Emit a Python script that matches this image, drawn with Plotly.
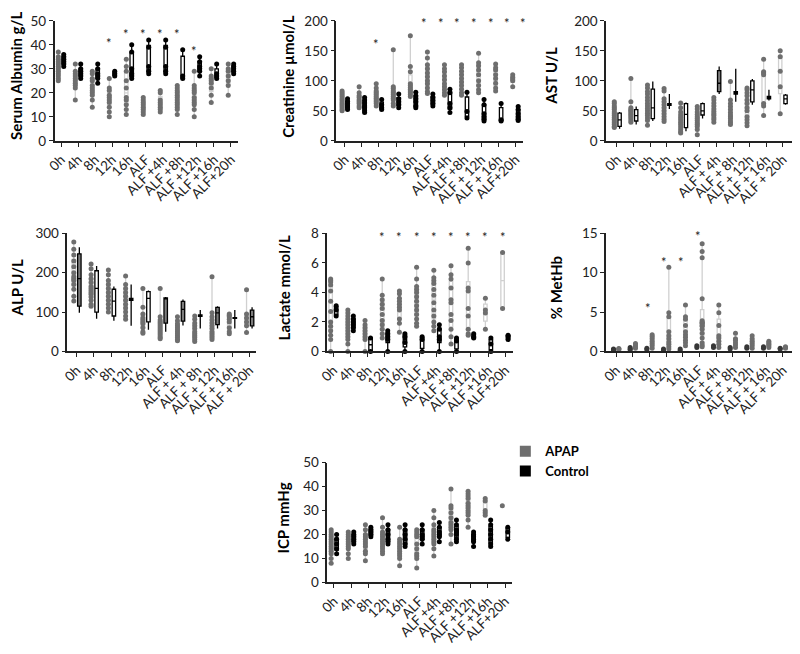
import plotly.graph_objects as go

# ---- data ----
GROUPS = ["APAP", "Control"]

LABELS_TIGHT = ["0h", "4h", "8h", "12h", "16h", "ALF", "ALF +4h", "ALF +8h",
                "ALF +12h", "ALF +16h", "ALF+20h"]
LABELS_SPACED = ["0h", "4h", "8h", "12h", "16h", "ALF", "ALF + 4h", "ALF + 8h",
                 "ALF + 12h", "ALF + 16h", "ALF + 20h"]
LABELS_CREAT = ["0h", "4h", "8h", "12h", "16h", "ALF", "ALF +4h", "ALF +8h",
                "ALF + 12h", "ALF + 16h", "ALF+20h"]

ALB_APAP = [
    [37, 35, 34, 33, 32, 31, 30, 29, 28, 27, 26, 25],
    [32, 29, 28, 27, 26, 25, 24, 23, 22, 17],
    [29, 28, 26, 25, 23, 22, 21, 20, 19, 17, 14],
    [26, 22, 21, 19, 18, 17, 16, 14, 12, 10],
    [34, 31, 29, 25, 22, 18, 17, 15, 13, 11],
    [18, 17, 16, 15, 14, 13, 12, 11],
    [21, 20, 17, 16, 15, 14, 13, 12],
    [23, 22, 21, 20, 19, 18, 17, 16, 15, 14, 13, 11],
    [29, 23, 22, 21, 20, 18, 17, 16, 15, 13, 10],
    [30, 27, 26, 25, 24, 22, 19, 16],
    [32, 30, 29, 27, 25, 23, 19],
]
ALB_CTRL = [
    [36, 35, 34, 33, 32, 31],
    [32, 30, 29, 28, 27, 26],
    [32, 30, 28, 27, 26, 24],
    [29, 28, 27],
    [40, 37, 30, 28, 27, 26],
    [42, 39, 31, 29, 28],
    [42, 39, 31, 29, 28],
    [38, 27, 26],
    [35, 33, 31, 30, 29, 27],
    [32, 28, 27, 26],
    [32, 31, 30, 29, 28],
]
ALB_STAR_X = [2.84, 3.84, 4.84, 5.84, 6.84, 7.84]
ALB_STAR_Y = [43, 46.5, 46.5, 46.5, 46.5, 39.5]

CREAT_APAP = [
    [83, 80, 77, 74, 70, 67, 64, 61, 58, 55, 52, 50],
    [90, 80, 75, 72, 68, 65, 62, 58, 55],
    [95, 88, 83, 80, 77, 74, 71, 68, 65, 62, 58],
    [152, 90, 87, 83, 80, 77, 74, 71, 68, 62, 58],
    [175, 124, 115, 95, 92, 89, 86, 83, 80, 77, 74],
    [148, 138, 127, 120, 113, 107, 100, 95, 88, 82, 79],
    [127, 120, 115, 108, 102, 95, 90, 85, 80, 76],
    [127, 122, 116, 110, 104, 98, 92, 86, 80, 76],
    [146, 130, 125, 118, 110, 100, 92, 85, 80],
    [128, 122, 118, 110, 104, 96, 88, 83],
    [110, 106, 103, 100, 90],
]
CREAT_CTRL = [
    [70, 66, 62, 58, 55, 52],
    [72, 68, 63, 58, 55, 50, 47],
    [69, 60, 55, 52],
    [78, 70, 65, 60, 55],
    [81, 75, 70, 65, 58, 55],
    [78, 72, 67, 62, 58],
    [86, 80, 62, 55, 47],
    [81, 49, 38],
    [69, 60, 45, 40, 36, 33],
    [62, 35, 33],
    [57, 52, 45, 40, 36, 34],
]
CREAT_STAR_X = [1.84, 4.65, 5.63, 6.6, 7.57, 8.55, 9.52, 10.45]
CREAT_STAR_Y = [169, 205, 205, 205, 205, 205, 205, 205]

AST_APAP = [
    [65, 62, 58, 55, 52, 48, 45, 42, 39, 36, 33, 30, 27, 24, 22],
    [104, 65, 55, 52, 50, 48, 45, 43, 40, 37, 34, 31],
    [93, 88, 82, 78, 72, 67, 62, 58, 54, 50, 46, 42, 38, 34, 26],
    [87, 83, 70, 65, 60, 55, 50, 45, 40, 36, 32],
    [63, 55, 48, 43, 39, 35, 31, 27, 23, 19, 15, 13],
    [57, 53, 48, 44, 40, 37, 34, 30, 27, 24, 19, 10],
    [72, 68, 63, 58, 53, 49, 45, 42, 38, 35, 31],
    [99, 68, 62, 57, 52, 47, 43, 40, 37, 33, 30, 27],
    [88, 85, 80, 75, 68, 62, 55, 50, 40, 35, 30, 25],
    [136, 115, 113, 110, 62, 58, 42],
    [150, 140, 116, 90, 45],
]
AST_CTRL_MIN = [20, 27, 33, 53, 16, 37, 78, 65, 60, 67, 60]
AST_CTRL_Q1 = [24, 33, 37, 59, 22, 43, 82, 78, 65, 70, 62]
AST_CTRL_MED = [35, 42, 55, 61, 44, 50, 96, 80, 85, 72, 70]
AST_CTRL_Q3 = [46, 52, 86, 62, 62, 62, 117, 82, 100, 74, 76]
AST_CTRL_MAX = [48, 57, 99, 78, 64, 64, 124, 120, 103, 85, 78]
AST_CTRL_SHADED = [6]

ALP_APAP = [
    [278, 260, 245, 230, 215, 200, 190, 185, 180, 170, 158, 140, 128],
    [222, 210, 195, 185, 175, 165, 160, 155, 150, 145, 138, 130, 120, 115],
    [207, 195, 180, 170, 160, 150, 140, 130, 120, 110, 100],
    [192, 170, 160, 150, 140, 130, 120, 110, 100, 90, 82],
    [160, 112, 95, 85, 80, 75, 70, 60, 50, 46],
    [160, 88, 80, 75, 70, 65, 60, 55, 50, 45, 40, 35, 32],
    [88, 78, 70, 65, 60, 55, 50, 45, 40, 35, 30, 27],
    [90, 82, 72, 65, 58, 50, 45, 40, 35, 30, 25],
    [190, 98, 88, 80, 72, 65, 58, 50, 45, 40, 35, 30],
    [95, 92, 88, 82, 75, 60, 50, 45],
    [157, 95, 85, 75, 65, 48],
]
ALP_CTRL_MIN = [98, 83, 78, 65, 55, 50, 66, 58, 58, 58, 58]
ALP_CTRL_Q1 = [115, 100, 90, 130, 75, 72, 77, 89, 68, 84, 65]
ALP_CTRL_MED = [185, 160, 128, 133, 135, 135, 107, 91, 98, 85, 88]
ALP_CTRL_Q3 = [248, 205, 158, 135, 152, 136, 127, 93, 112, 86, 105]
ALP_CTRL_MAX = [265, 217, 165, 170, 155, 138, 132, 105, 115, 105, 112]
ALP_CTRL_SHADED = [0, 5, 6, 8, 10]

LAC_APAP = [
    [4.9, 4.8, 4.7, 4.5, 4.1, 3.4, 2.7, 2.0, 1.7, 1.4, 1.1, 0.8, 0.0],
    [2.8, 2.6, 2.4, 2.2, 2.0, 1.8, 1.6, 1.4, 1.2, 1.0, 0.8, 0.5, 0.0],
    [2.1, 1.8, 1.6, 1.4, 1.2, 1.0, 0.8, 0.0],
    [4.9, 3.8, 3.5, 3.2, 2.9, 2.5, 2.1, 1.8, 1.5, 1.2, 0.9],
    [4.1, 3.9, 3.6, 3.4, 3.2, 3.0, 2.8, 2.2, 1.9, 1.3],
    [5.7, 4.9, 4.4, 4.2, 4.0, 3.7, 3.4, 3.1, 2.8, 2.5, 2.2, 1.9, 1.7],
    [5.5, 5.0, 4.8, 4.6, 4.2, 3.8, 3.3, 2.8, 2.4, 2.0, 1.7, 1.4],
    [5.8, 5.2, 4.9, 4.3, 3.5, 3.3, 2.5, 2.1, 1.5, 1.0, 0.5],
    [7.0, 6.0, 4.3, 4.1, 2.9, 2.4, 1.5, 1.2, 1.1],
    [3.6, 2.8, 2.6, 1.5],
    [6.7, 2.9],
]
LAC_CTRL = [
    [3.1, 2.8, 2.4],
    [2.4, 2.2, 2.0, 1.8, 1.6, 1.4],
    [0.9, 0.0],
    [1.4, 1.2, 1.0, 0.8, 0.0],
    [1.2, 1.0, 0.6, 0.0],
    [1.0, 0.8, 0.0],
    [1.8, 1.5, 1.0, 0.8, 0.0],
    [0.9, 0.7, 0.0],
    [1.2, 1.0, 0.9],
    [0.9, 0.5, 0.0],
    [1.1, 1.0, 0.8],
]
LAC_STAR_X = [2.84, 3.84, 4.84, 5.84, 6.84, 7.84, 8.84, 9.84]
LAC_STAR_Y = [8.1, 8.1, 8.1, 8.1, 8.1, 8.1, 8.1, 8.1]

METHB_APAP = [
    [0.35, 0.3, 0.2],
    [1.0, 0.8, 0.6, 0.4],
    [2.1, 1.9, 1.6, 1.3, 1.0, 0.7, 0.4],
    [10.7, 4.9, 4.4, 2.5, 2.0, 1.6, 1.2, 0.9, 0.6, 0.3],
    [5.9, 4.4, 4.1, 3.3, 2.5, 2.1, 1.8, 1.4, 1.1, 0.7],
    [13.7, 12.7, 11.9, 6.7, 3.9, 3.7, 3.6, 3.5, 3.3, 3.2, 2.8, 2.3, 1.7, 1.1, 0.8, 0.6],
    [5.9, 4.9, 3.3, 2.0, 1.7, 1.3, 0.9, 0.5],
    [2.3, 1.6, 1.4, 1.1, 0.8, 0.5],
    [2.0, 1.6, 1.3, 1.0, 0.7, 0.4],
    [1.3, 1.1, 0.9, 0.7, 0.5],
    [0.6, 0.5, 0.4],
]
METHB_CTRL = [
    [0.3, 0.2, 0.1],
    [0.5, 0.3, 0.2],
    [0.4, 0.2],
    [0.3, 0.1],
    [0.3, 0.1],
    [0.7, 0.5],
    [0.7, 0.5],
    [0.5, 0.3],
    [0.6, 0.4],
    [0.6, 0.4],
    [0.4, 0.3],
]
METHB_STAR_X = [1.9, 2.9, 3.9, 4.9]
METHB_STAR_Y = [6.2, 12.0, 12.0, 15.3]

ICP_APAP = [
    [22, 21, 20, 19, 18, 17, 16, 15, 14, 13, 12, 10, 8],
    [21, 20, 19, 18, 17, 16, 15, 14, 12, 10],
    [24, 22, 20, 19, 18, 17, 16, 15, 13, 12, 9],
    [27, 23, 21, 20, 19, 18, 17, 16, 15, 14, 13, 12],
    [23, 18, 17, 16, 15, 14, 13, 12, 11, 10, 7],
    [22, 21, 20, 19, 16, 14, 12, 11, 10, 6],
    [30, 27, 24, 22, 21, 20, 19, 18, 17, 16, 14, 11],
    [39, 32, 31, 29, 27, 25, 24, 23, 22, 20, 16],
    [38, 37, 36, 35, 33, 32, 31, 30, 29, 28, 26, 23],
    [35, 34, 30, 29, 28],
    [32],
]
ICP_CTRL = [
    [20, 18, 16, 14, 12],
    [21, 20, 19, 18, 17, 16],
    [23, 22, 21, 20, 19],
    [24, 22, 20, 18, 17, 16],
    [24, 22, 20, 18, 16, 15],
    [24, 22, 20, 19, 18, 16],
    [25, 23, 21, 20, 19, 17],
    [26, 24, 22, 21, 20, 18, 17],
    [21, 20, 19, 18, 17, 15],
    [26, 24, 22, 20, 18, 16, 15],
    [23, 21, 18],
]

# ---- styling ----
W, H = 800, 654
PAGE_OFF = 8            # default body margin of the html page
FIG_W, FIG_H = W - 2 * PAGE_OFF, H - 2 * PAGE_OFF
FONT = "Lato"
GREY = "rgb(110,110,110)"
LIGHT = "rgb(208,208,208)"
SHADE = "rgb(125,125,125)"
OFF = 0.16


def fx(p):
    # page pixel -> paper fraction
    return (p - PAGE_OFF) / FIG_W


def fy(p):
    return 1 - (p - PAGE_OFF) / FIG_H


def ax_id(n):
    return "" if n == 1 else str(n)


fig = go.Figure()
annotations = []


def add_points(n, vals, side, color):
    xs, ys = [], []
    for i, grp in enumerate(vals):
        xs += [i + side] * len(grp)
        ys += grp
    fig.add_trace(go.Scatter(
        x=xs, y=ys, mode="markers", xaxis=f"x{n}", yaxis=f"y{n}",
        marker=dict(color=color, size=5), cliponaxis=False, showlegend=False,
    ))


def add_raw_boxes(n, vals, side, line, fill, width=1.3):
    xs, ys = [], []
    for i, grp in enumerate(vals):
        xs += [i + side] * len(grp)
        ys += grp
    fig.add_trace(go.Box(
        x=xs, y=ys, xaxis=f"x{n}", yaxis=f"y{n}", boxpoints=False,
        width=0.2, whiskerwidth=0, fillcolor=fill,
        line=dict(color=line, width=width), showlegend=False,
    ))


def add_stat_boxes(n, lo, q1, med, q3, hi, side, shaded):
    for idx, fill in [([i for i in range(len(med)) if i not in shaded], "white"),
                      (shaded, SHADE)]:
        fig.add_trace(go.Box(
            x=[i + side for i in idx],
            lowerfence=[lo[i] for i in idx], q1=[q1[i] for i in idx],
            median=[med[i] for i in idx], q3=[q3[i] for i in idx],
            upperfence=[hi[i] for i in idx],
            xaxis=f"x{n}", yaxis=f"y{n}", width=0.2, whiskerwidth=0,
            fillcolor=fill, line=dict(color="black", width=1.3),
            showlegend=False,
        ))


# n, title, title x(px), x domain(px), y domain(px), x range, y max, dtick, labels, stars
PANELS = [
    (1, "Serum Albumin g/L", 7, (46, 232), (13, 136), (-0.38, 10.44), 50, 10,
     LABELS_TIGHT, (ALB_STAR_X, ALB_STAR_Y)),
    (2, "Creatinine µmol/L", 282, (331, 520), (13, 136), (-0.5, 10.45), 200, 50,
     LABELS_CREAT, (CREAT_STAR_X, CREAT_STAR_Y)),
    (3, "AST U/L", 548, (604, 792), (13, 136), (-0.65, 10.55), 200, 50,
     LABELS_SPACED, None),
    (4, "ALP U/L", 8, (59, 250), (231, 352), (-0.53, 10.4), 300, 100,
     LABELS_SPACED, None),
    (5, "Lactate mmol/L", 278, (322, 510), (231, 352), (-0.35, 10.46), 8, 2,
     LABELS_TIGHT, (LAC_STAR_X, LAC_STAR_Y)),
    (6, "% MetHb", 553, (604, 792), (231, 352), (-0.6, 10.55), 15, 5,
     LABELS_SPACED, (METHB_STAR_X, METHB_STAR_Y)),
    (7, "ICP mmHg", 277, (322, 509), (466, 589), (-0.38, 10.42), 50, 10,
     LABELS_TIGHT, None),
]

# Serum albumin
add_raw_boxes(1, ALB_APAP, -OFF, LIGHT, "rgba(0,0,0,0)")
add_points(1, ALB_APAP, -OFF, GREY)
add_points(1, ALB_CTRL, OFF, "black")
add_raw_boxes(1, ALB_CTRL, OFF, "black", "white")

# Creatinine
add_raw_boxes(2, CREAT_APAP, -OFF, LIGHT, "rgba(0,0,0,0)")
add_points(2, CREAT_APAP, -OFF, GREY)
add_points(2, CREAT_CTRL, OFF, "black")
add_raw_boxes(2, CREAT_CTRL, OFF, "black", "white")

# AST
add_raw_boxes(3, AST_APAP, -OFF, LIGHT, "rgba(0,0,0,0)")
add_points(3, AST_APAP, -OFF, GREY)
add_stat_boxes(3, AST_CTRL_MIN, AST_CTRL_Q1, AST_CTRL_MED, AST_CTRL_Q3,
               AST_CTRL_MAX, OFF, AST_CTRL_SHADED)

# ALP
add_raw_boxes(4, ALP_APAP, -OFF, LIGHT, "rgba(0,0,0,0)")
add_points(4, ALP_APAP, -OFF, GREY)
add_stat_boxes(4, ALP_CTRL_MIN, ALP_CTRL_Q1, ALP_CTRL_MED, ALP_CTRL_Q3,
               ALP_CTRL_MAX, OFF, ALP_CTRL_SHADED)

# Lactate
add_raw_boxes(5, LAC_APAP, -OFF, LIGHT, "rgba(0,0,0,0)")
add_points(5, LAC_APAP, -OFF, GREY)
add_points(5, LAC_CTRL, OFF, "black")
add_raw_boxes(5, LAC_CTRL, OFF, "black", "white")

# MetHb (control drawn on the left here)
add_raw_boxes(6, METHB_APAP, OFF, LIGHT, "rgba(0,0,0,0)")
add_points(6, METHB_APAP, OFF, GREY)
add_points(6, METHB_CTRL, -OFF, "rgb(55,55,55)")

# ICP
add_raw_boxes(7, ICP_APAP, -OFF, LIGHT, "rgba(0,0,0,0)")
add_points(7, ICP_APAP, -OFF, GREY)
add_points(7, ICP_CTRL, OFF, "black")
add_raw_boxes(7, ICP_CTRL, OFF, "black", "white")

# legend entries
for name, color in zip(GROUPS, [GREY, "black"]):
    fig.add_trace(go.Scatter(
        x=[None], y=[None], mode="markers", name=name, xaxis="x7", yaxis="y7",
        marker=dict(symbol="square", size=11, color=color),
    ))

axis_common = dict(showline=True, linecolor="#222", linewidth=1.5, ticks="outside",
                   ticklen=4, tickwidth=1.3, tickcolor="#222", showgrid=False,
                   zeroline=False, tickfont=dict(family=FONT, size=13.5, color="#222"))

for n, title, tx, xd, yd, xr, ymax, dtick, labels, stars in PANELS:
    sfx = ax_id(n)
    fig.update_layout({
        f"xaxis{sfx}": dict(axis_common, domain=[fx(xd[0]), min(fx(xd[1]), 1.0)],
                            range=list(xr), anchor=f"y{sfx}",
                            tickvals=list(range(len(labels))),
                            ticktext=labels, tickangle=-45,
                            ticklabeloverflow="allow"),
        f"yaxis{sfx}": dict(axis_common, domain=[fy(yd[1]), fy(yd[0])], range=[0, ymax],
                            anchor=f"x{sfx}", dtick=dtick),
    })
    annotations.append(dict(
        text=f"<b>{title}</b>", x=fx(tx), y=fy((yd[0] + yd[1]) / 2 - 5), xref="paper",
        yref="paper", textangle=-90, showarrow=False, xanchor="center",
        yanchor="middle", font=dict(family=FONT, size=15, color="black"),
    ))
    # significance stars, placed in axis-domain units so they may sit above the range
    if stars:
        for sx, sy in zip(*stars):
            annotations.append(dict(
                text="*", xref=f"x{sfx} domain", yref=f"y{sfx} domain",
                x=(sx - xr[0]) / (xr[1] - xr[0]), y=sy / ymax, showarrow=False,
                xanchor="center", yanchor="middle", yshift=-5,
                font=dict(family=FONT, size=13, color="#222"),
            ))

fig.update_layout(
    width=FIG_W, height=FIG_H, margin=dict(l=0, r=0, t=0, b=0),
    paper_bgcolor="white", plot_bgcolor="white",
    annotations=annotations, boxmode="overlay",
    legend=dict(x=fx(502), y=fy(439), xanchor="left", yanchor="top",
                font=dict(family=FONT, size=13, color="black", weight="bold"),
                bgcolor="rgba(0,0,0,0)", tracegroupgap=0, itemwidth=30),
)

fig.write_html("out.html")
